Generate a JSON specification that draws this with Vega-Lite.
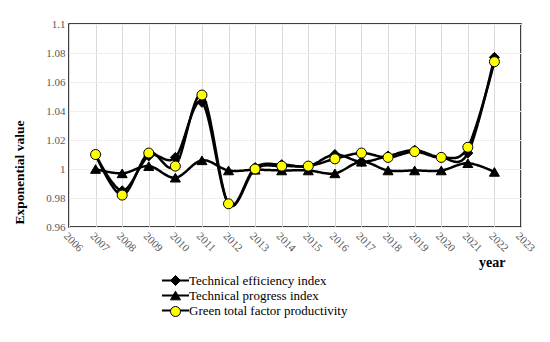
{
  "$schema": "https://vega.github.io/schema/vega-lite/v6.json",
  "autosize": "none",
  "width": 452,
  "height": 203,
  "padding": {"left": 69, "top": 24, "right": 29, "bottom": 115},
  "background": "white",
  "config": {
    "font": "Liberation Serif",
    "view": {"stroke": "black", "strokeWidth": 1.5},
    "legend": {"labelFont": "Liberation Serif"}
  },
  "data": {
    "values": [
      {"year": 2007, "series": "Technical efficiency index", "value": 1.010},
      {"year": 2008, "series": "Technical efficiency index", "value": 0.985},
      {"year": 2009, "series": "Technical efficiency index", "value": 1.009},
      {"year": 2010, "series": "Technical efficiency index", "value": 1.008},
      {"year": 2011, "series": "Technical efficiency index", "value": 1.046},
      {"year": 2012, "series": "Technical efficiency index", "value": 0.976},
      {"year": 2013, "series": "Technical efficiency index", "value": 1.001},
      {"year": 2014, "series": "Technical efficiency index", "value": 1.003},
      {"year": 2015, "series": "Technical efficiency index", "value": 1.002},
      {"year": 2016, "series": "Technical efficiency index", "value": 1.010},
      {"year": 2017, "series": "Technical efficiency index", "value": 1.005},
      {"year": 2018, "series": "Technical efficiency index", "value": 1.009},
      {"year": 2019, "series": "Technical efficiency index", "value": 1.013},
      {"year": 2020, "series": "Technical efficiency index", "value": 1.008},
      {"year": 2021, "series": "Technical efficiency index", "value": 1.011},
      {"year": 2022, "series": "Technical efficiency index", "value": 1.077},
      {"year": 2007, "series": "Technical progress index", "value": 1.000},
      {"year": 2008, "series": "Technical progress index", "value": 0.997},
      {"year": 2009, "series": "Technical progress index", "value": 1.002},
      {"year": 2010, "series": "Technical progress index", "value": 0.994},
      {"year": 2011, "series": "Technical progress index", "value": 1.006},
      {"year": 2012, "series": "Technical progress index", "value": 0.999},
      {"year": 2013, "series": "Technical progress index", "value": 0.9995},
      {"year": 2014, "series": "Technical progress index", "value": 0.999},
      {"year": 2015, "series": "Technical progress index", "value": 0.999},
      {"year": 2016, "series": "Technical progress index", "value": 0.997},
      {"year": 2017, "series": "Technical progress index", "value": 1.005},
      {"year": 2018, "series": "Technical progress index", "value": 0.999},
      {"year": 2019, "series": "Technical progress index", "value": 0.999},
      {"year": 2020, "series": "Technical progress index", "value": 0.999},
      {"year": 2021, "series": "Technical progress index", "value": 1.004},
      {"year": 2022, "series": "Technical progress index", "value": 0.998},
      {"year": 2007, "series": "Green total factor productivity", "value": 1.010},
      {"year": 2008, "series": "Green total factor productivity", "value": 0.982},
      {"year": 2009, "series": "Green total factor productivity", "value": 1.011},
      {"year": 2010, "series": "Green total factor productivity", "value": 1.002},
      {"year": 2011, "series": "Green total factor productivity", "value": 1.051},
      {"year": 2012, "series": "Green total factor productivity", "value": 0.976},
      {"year": 2013, "series": "Green total factor productivity", "value": 1.000},
      {"year": 2014, "series": "Green total factor productivity", "value": 1.002},
      {"year": 2015, "series": "Green total factor productivity", "value": 1.002},
      {"year": 2016, "series": "Green total factor productivity", "value": 1.007},
      {"year": 2017, "series": "Green total factor productivity", "value": 1.011},
      {"year": 2018, "series": "Green total factor productivity", "value": 1.008},
      {"year": 2019, "series": "Green total factor productivity", "value": 1.012},
      {"year": 2020, "series": "Green total factor productivity", "value": 1.008},
      {"year": 2021, "series": "Green total factor productivity", "value": 1.015},
      {"year": 2022, "series": "Green total factor productivity", "value": 1.074}
    ]
  },
  "encoding": {
    "x": {
      "field": "year", "type": "quantitative",
      "scale": {"domain": [2006, 2023], "nice": false, "zero": false},
      "axis": {
        "values": [2006,2007,2008,2009,2010,2011,2012,2013,2014,2015,2016,2017,2018,2019,2020,2021,2022,2023],
        "format": "d",
        "labelAngle": 45, "labelAlign": "left", "labelBaseline": "top",
        "labelFont": "Liberation Serif", "labelFontSize": 11, "labelColor": "#595959",
        "labelPadding": 3,
        "ticks": false, "domain": false,
        "grid": true, "gridColor": "#d9d9d9", "gridWidth": 1,
        "title": "year", "titleFont": "Liberation Serif", "titleFontSize": 14, "titleFontWeight": "bold",
        "titleColor": "black", "titleAlign": "right", "titleBaseline": "middle",
        "titleX": 436, "titleY": 35,
        "labelOverlap": false, "labelBound": false, "labelFlush": false
      }
    },
    "y": {
      "field": "value", "type": "quantitative",
      "scale": {"domain": [0.96, 1.1], "nice": false, "zero": false},
      "axis": {
        "values": [0.96, 0.98, 1, 1.02, 1.04, 1.06, 1.08, 1.1],
        "format": "~g",
        "labelFont": "Liberation Serif", "labelFontSize": 11, "labelColor": "#595959",
        "labelPadding": 4,
        "ticks": false, "domain": false,
        "grid": true, "gridColor": "#eeeeee", "gridWidth": 1,
        "title": "Exponential value", "titleFont": "Liberation Serif", "titleFontSize": 13.5, "titleFontWeight": "bold",
        "titleColor": "black", "titleAngle": -90, "titleAlign": "center", "titleBaseline": "middle",
        "titleX": -50, "titleY": 148,
        "labelOverlap": false, "labelFlush": false
      }
    }
  },
  "layer": [
    {
      "mark": {"type": "line", "interpolate": "cardinal", "color": "black", "strokeWidth": 2.5},
      "encoding": {
        "detail": {"field": "series"},
        "strokeDash": {
          "field": "series", "type": "nominal",
          "sort": ["Technical efficiency index", "Technical progress index", "Green total factor productivity"],
          "scale": {"range": [[1, 0], [1, 0], [1, 0]]},
          "legend": {
            "orient": "none", "legendX": 100, "legendY": 250,
            "title": null, "symbolType": "M-2.7,0H2.7", "symbolSize": 100,
            "symbolStrokeColor": "black", "symbolStrokeWidth": 2.2, "symbolFillColor": "transparent",
            "labelFont": "Liberation Serif", "labelFontSize": 13, "labelColor": "black",
            "labelOffset": 7, "rowPadding": 1, "padding": 0, "offset": 0, "labelLimit": 400
          }
        }
      }
    },
    {
      "mark": {"type": "point", "filled": true, "stroke": "black", "strokeWidth": 1, "size": 100, "opacity": 1},
      "encoding": {
        "shape": {
          "field": "series", "type": "nominal",
          "scale": {
            "domain": ["Technical efficiency index", "Technical progress index", "Green total factor productivity"],
            "range": ["diamond", "triangle-up", "circle"]
          },
          "legend": {
            "orient": "none", "legendX": 100, "legendY": 250,
            "title": null, "symbolSize": 100,
            "symbolStrokeColor": "black", "symbolStrokeWidth": 1,
            "labelFont": "Liberation Serif", "labelFontSize": 13, "labelOpacity": 0,
            "labelOffset": 7, "rowPadding": 1, "padding": 0, "offset": 0, "labelLimit": 400
          }
        },
        "color": {
          "field": "series", "type": "nominal",
          "scale": {
            "domain": ["Technical efficiency index", "Technical progress index", "Green total factor productivity"],
            "range": ["black", "black", "#ffff00"]
          }
        }
      }
    }
  ]
}
